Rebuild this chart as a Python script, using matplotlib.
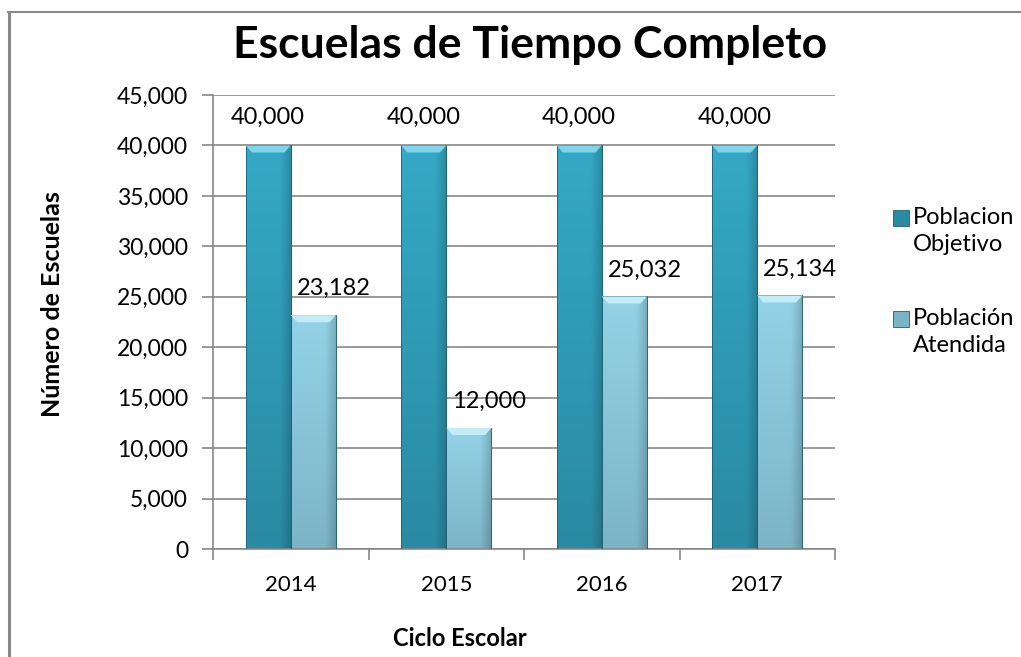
import numpy as np
import matplotlib.pyplot as plt
from matplotlib.colors import to_rgb
from matplotlib.patches import Polygon, Rectangle
from matplotlib.ticker import FuncFormatter, FixedLocator

# Datos
ciclos = ['2014', '2015', '2016', '2017']
poblacion_objetivo = [40000, 40000, 40000, 40000]
poblacion_atendida = [23182, 12000, 25032, 25134]
etiquetas_serie = ['Poblacion\nObjetivo', 'Población\nAtendida']

plt.rcParams['font.family'] = ['Lato', 'DejaVu Sans']

W, H = 1021, 657
fig = plt.figure(figsize=(W / 100, H / 100), dpi=100)
# area de trazado: x 213..835, y 95..549 px
ax = fig.add_axes([213 / W, 1 - 549 / H, 622 / W, 454 / H])

# borde del grafico (solo izquierda y arriba visibles)
fig.add_artist(plt.Line2D([8.5 / W, 8.5 / W], [0, 1 - 12 / H], color='#888888', lw=2.2, transform=fig.transFigure))
fig.add_artist(plt.Line2D([7.5 / W, 1.0], [1 - 12 / H, 1 - 12 / H], color='#888888', lw=1.5, transform=fig.transFigure))

x = np.arange(len(ciclos))
w = 0.29

ax.set_xlim(-0.5, len(ciclos) - 0.5)
ax.set_ylim(0, 45000)

COL_OBJ = ('#34a9c6', '#2a8aa2', '#7fd6ec')
COL_ATE = ('#93d3e7', '#7cb4c7', '#c4ecf7')


def barra_gradiente(x0, altura, colores):
    # barra con degradado vertical y sombra a la derecha
    c_top, c_bot, c_cap = colores
    n = 64
    t = np.linspace(0, 1, n)[:, None, None]
    img = np.array(to_rgb(c_top)) * (1 - t) + np.array(to_rgb(c_bot)) * t
    img = np.repeat(img, 32, axis=1)
    s = np.linspace(0, 1, 32)
    shade = 1 - 0.18 * np.clip((s - 0.75) / 0.25, 0, 1)
    img = img * shade[None, :, None]
    rect = Rectangle((x0, 0), w, altura, facecolor='none', edgecolor='#1f5f70', lw=0.6, zorder=3)
    ax.add_patch(rect)
    im = ax.imshow(img, extent=(x0, x0 + w, 0, altura), aspect='auto', origin='upper', zorder=2)
    im.set_clip_path(rect)
    # tapa biselada
    dy = 700
    cap = Polygon([(x0, altura), (x0 + w, altura), (x0 + w * 0.86, altura - dy), (x0 + w * 0.14, altura - dy)],
                  closed=True, facecolor=c_cap, edgecolor='none', zorder=3)
    ax.add_patch(cap)


for i in range(len(ciclos)):
    barra_gradiente(x[i] - w, poblacion_objetivo[i], COL_OBJ)
    barra_gradiente(x[i], poblacion_atendida[i], COL_ATE)

# etiquetas de datos
for i in range(len(ciclos)):
    ax.annotate(f'{poblacion_objetivo[i]:,}', (x[i] - w / 2, poblacion_objetivo[i]),
                xytext=(0, 20), textcoords='offset points', ha='center', va='center', fontsize=17)
    ax.annotate(f'{poblacion_atendida[i]:,}', (x[i] + w / 2, poblacion_atendida[i]),
                xytext=(14.5, 19), textcoords='offset points', ha='center', va='center', fontsize=17)

# ejes
ax.set_yticks(np.arange(0, 45001, 5000))
ax.yaxis.set_major_formatter(FuncFormatter(lambda v, p: f'{int(v):,}'))
ax.yaxis.grid(True, color='#878787', lw=1.2)
ax.set_axisbelow(True)
ax.xaxis.set_major_locator(FixedLocator(np.arange(-0.5, len(ciclos), 1.0)))
ax.xaxis.set_major_formatter(FuncFormatter(lambda v, p: ''))
ax.xaxis.set_minor_locator(FixedLocator(x))
ax.set_xticklabels(ciclos, minor=True)
ax.tick_params(axis='x', which='major', length=8, width=1.2, color='#878787')
ax.tick_params(axis='x', which='minor', length=0, pad=19, labelsize=16)
ax.tick_params(axis='y', length=8, width=1.2, color='#878787', labelsize=16.5, pad=10)
for s in ['top', 'right']:
    ax.spines[s].set_visible(False)
for s in ['left', 'bottom']:
    ax.spines[s].set_color('#878787')
    ax.spines[s].set_linewidth(1.2)

fig.text(460 / W, 1 - 638 / H, 'Ciclo Escolar', ha='center', va='center', fontsize=17, fontweight='bold')
fig.text(52 / W, 1 - 304 / H, 'Número de Escuelas', ha='center', va='center', rotation=90,
         fontsize=18, fontweight='bold')
fig.text(530 / W, 1 - 45 / H, 'Escuelas de Tiempo Completo', ha='center', va='center',
         fontsize=32, fontweight='bold')

# leyenda (manual, para colocar cada linea como en el original)
leyenda_y = [219, 320]
for etiqueta, y_px, col in zip(etiquetas_serie, leyenda_y, [COL_OBJ, COL_ATE]):
    fig.add_artist(Rectangle((893 / W, 1 - (y_px + 7) / H), 16 / W, 16 / H, transform=fig.transFigure,
                             facecolor=col[1], edgecolor='#1f5f70', lw=0.6))
    fig.text(913 / W, 1 - (y_px - 12) / H, etiqueta, ha='left', va='top', fontsize=17, linespacing=1.35)

fig.savefig('out.png', dpi=100)
